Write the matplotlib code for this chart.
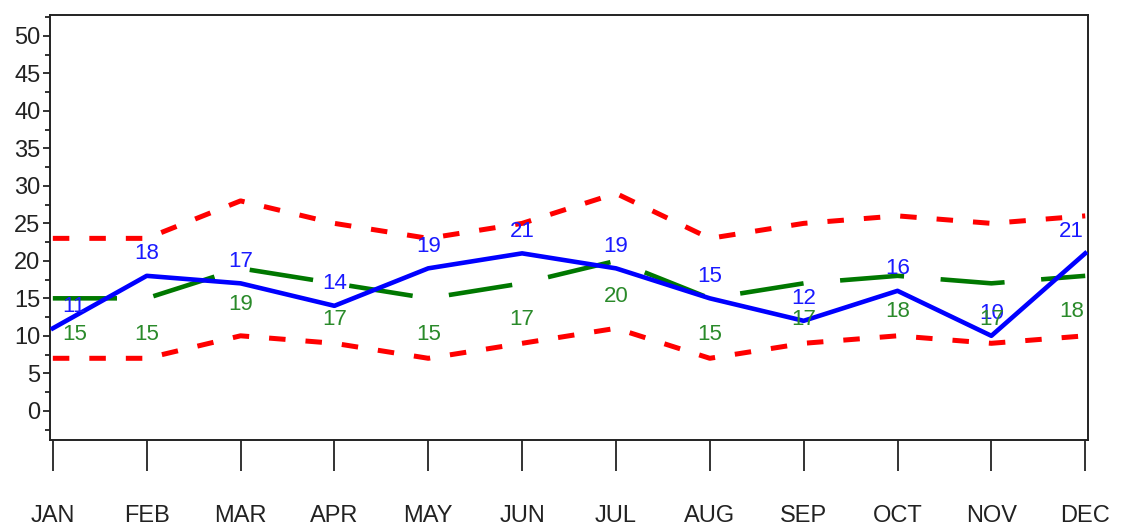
import matplotlib.pyplot as plt
from matplotlib.ticker import MultipleLocator
import numpy as np

months = ['JAN', 'FEB', 'MAR', 'APR', 'MAY', 'JUN',
          'JUL', 'AUG', 'SEP', 'OCT', 'NOV', 'DEC']
actual = [11, 18, 17, 14, 19, 21, 19, 15, 12, 16, 10, 21]
forecast = [15, 15, 19, 17, 15, 17, 20, 15, 17, 18, 17, 18]
upper = [23, 23, 28, 25, 23, 25, 29, 23, 25, 26, 25, 26]
lower = [7, 7, 10, 9, 7, 9, 11, 7, 9, 10, 9, 10]

plt.rcParams['font.family'] = ['Liberation Sans', 'DejaVu Sans']

fig = plt.figure(figsize=(11.24, 5.26), dpi=100)
ax = fig.add_axes([0.0445, 0.1635, 0.9235, 0.808])

x = np.arange(len(months))

# limites
ax.plot(x, upper, color='#ff0000', lw=3.6, dashes=(3.3, 4.0), zorder=2)
ax.plot(x, lower, color='#ff0000', lw=3.6, dashes=(3.3, 4.0), zorder=2)
# previsao
ax.plot(x, forecast, color='#007800', lw=3.3, dashes=(14, 8), zorder=3)
# real
ax.plot(x, actual, color='#0000ff', lw=3.3, zorder=4)

n = len(months)
for i in range(n):
    if i == 0:
        dx, ha = 7, 'left'
    elif i == n - 1:
        dx, ha = -1, 'right'
    else:
        dx, ha = 0, 'center'
    ax.annotate(str(actual[i]), (x[i], actual[i]), xytext=(dx, 16),
                textcoords='offset points', ha=ha, va='center',
                color='#1a1aff', fontsize=16, zorder=5)
    ax.annotate(str(forecast[i]), (x[i], forecast[i]), xytext=(dx, -26),
                textcoords='offset points', ha=ha, va='center',
                color='#2a8a2a', fontsize=16, zorder=5)

ax.set_xlim(-0.03, 11.03)
ax.set_ylim(-3.9, 52.8)
ax.set_xticks(x)
ax.set_xticklabels(months)
ax.yaxis.set_major_locator(MultipleLocator(5))
ax.yaxis.set_minor_locator(MultipleLocator(2.5))
ax.set_yticks(np.arange(0, 51, 5))

for s in ax.spines.values():
    s.set_linewidth(1.4)
    s.set_color('#222222')

ax.tick_params(axis='x', length=22, width=1.4, pad=25, labelsize=17,
               color='#333333', labelcolor='#222222')
ax.tick_params(axis='y', which='major', length=5, width=1.4, pad=2,
               labelsize=17, color='#333333', labelcolor='#222222')
ax.tick_params(axis='y', which='minor', length=3.5, width=1.4,
               color='#333333')

fig.savefig('out.png', dpi=100)
